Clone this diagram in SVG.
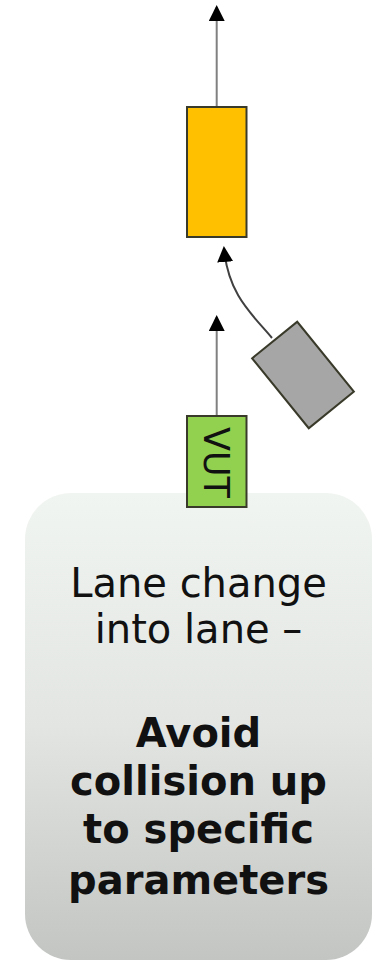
<svg xmlns="http://www.w3.org/2000/svg" width="383" height="961" viewBox="0 0 383 961">
<style>
.conn{fill:none;stroke:#808080;stroke-width:2}
.curve{fill:none;stroke:#404040;stroke-width:2}
.car{stroke:#3a3a2a;stroke-width:2}
.t{font-family:"DejaVu Sans",Verdana,sans-serif;font-size:40px;fill:#111;text-anchor:middle}
.b{font-weight:bold}
</style>
<defs>
<marker id="ah" markerWidth="8" markerHeight="8" refX="7" refY="4" orient="auto" markerUnits="strokeWidth">
<path d="M0,0 L8,4 L0,8 Z" fill="#000"/>
</marker>
<linearGradient id="bg" x1="0" y1="0" x2="0" y2="1">
<stop offset="0" stop-color="#f1f5f1"/>
<stop offset="0.5" stop-color="#e2e5e2"/>
<stop offset="1" stop-color="#c2c5c2"/>
</linearGradient>
</defs>
<g id="connectors">
<path class="conn" d="M216.7,107 L216.7,7" marker-end="url(#ah)"/>
<path class="conn" d="M216.7,416 L216.7,317" marker-end="url(#ah)"/>
<path class="curve" d="M272,338 C254,316 228,296 224,248" marker-end="url(#ah)"/>
</g>
<g id="box">
<rect x="25" y="493" width="347" height="467" rx="46" ry="46" fill="url(#bg)"/>
<text class="t" x="198.5" y="597">Lane change</text>
<text class="t" x="198.5" y="643">into lane –</text>
<text class="t b" x="198.5" y="747">Avoid</text>
<text class="t b" x="198.5" y="795">collision up</text>
<text class="t b" x="198.5" y="843">to specific</text>
<text class="t b" x="198.5" y="894">parameters</text>
</g>
<g id="lead">
<rect class="car" x="187" y="107" width="59.5" height="130" fill="#ffc000" stroke="#5a4a10"/>
</g>
<g id="cutin">
<rect class="car" x="-29" y="-45" width="58" height="90" fill="#a6a6a6" transform="translate(303,375) rotate(-39)"/>
</g>
<g id="vut">
<rect class="car" x="187" y="416" width="59.5" height="91" fill="#92d050" stroke="#2a3a1a"/>
<text x="0" y="13" transform="translate(216.7,462.5) rotate(90)" style="font-family:'DejaVu Sans',Verdana,sans-serif;font-size:35px;fill:#111;text-anchor:middle">VUT</text>
</g>
</svg>
